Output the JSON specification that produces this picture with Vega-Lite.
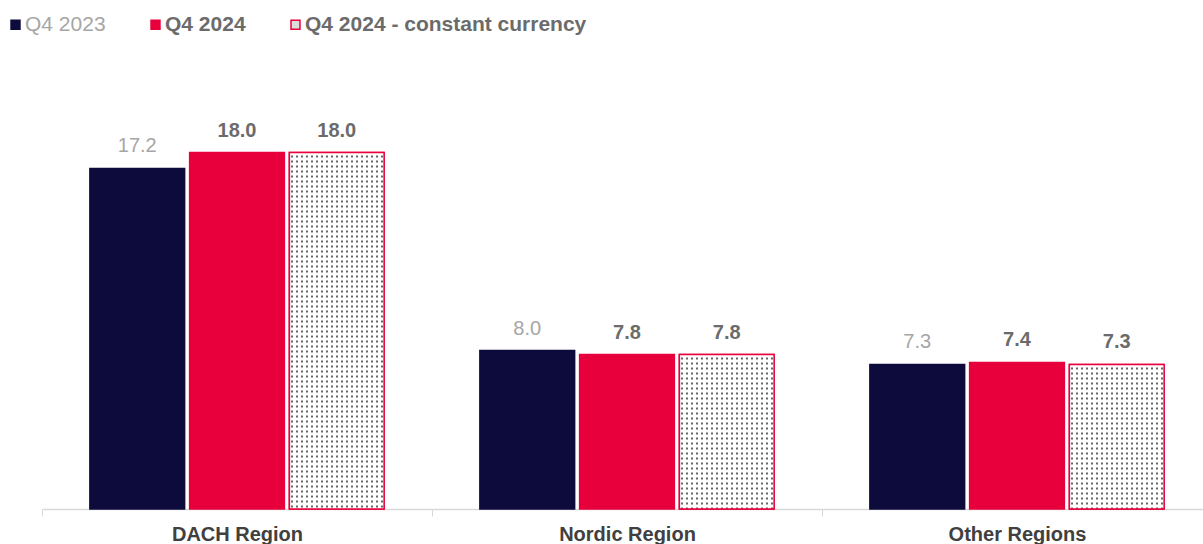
{
  "$schema": "https://vega.github.io/schema/vega-lite/v6.json",
  "autosize": {"type": "none"},
  "width": 1161,
  "height": 396,
  "padding": {"left": 42, "top": 113, "right": 0, "bottom": 35},
  "background": "white",
  "config": {
    "font": "Liberation Sans",
    "view": {"stroke": null}
  },
  "data": {
    "values": [
      {"region": "DACH Region", "series": "Q4 2023", "value": 17.2},
      {"region": "DACH Region", "series": "Q4 2024", "value": 18.0},
      {"region": "DACH Region", "series": "Q4 2024 - constant currency", "value": 18.0},
      {"region": "Nordic Region", "series": "Q4 2023", "value": 8.0},
      {"region": "Nordic Region", "series": "Q4 2024", "value": 7.8},
      {"region": "Nordic Region", "series": "Q4 2024 - constant currency", "value": 7.8},
      {"region": "Other Regions", "series": "Q4 2023", "value": 7.3},
      {"region": "Other Regions", "series": "Q4 2024", "value": 7.4},
      {"region": "Other Regions", "series": "Q4 2024 - constant currency", "value": 7.3}
    ]
  },
  "encoding": {
    "x": {
      "field": "region",
      "type": "nominal",
      "sort": null,
      "scale": {"range": [0, 1170], "paddingInner": 0, "paddingOuter": 0},
      "axis": {
        "title": null,
        "labelAngle": 0,
        "labelFontSize": 20,
        "labelFontWeight": "bold",
        "labelColor": "#404040",
        "labelPadding": 8,
        "tickBand": "extent",
        "tickSize": 7,
        "tickColor": "#d9d9d9",
        "domainColor": "#d9d9d9",
        "domainWidth": 1.5
      }
    },
    "xOffset": {
      "field": "series",
      "type": "nominal",
      "sort": null,
      "scale": {"paddingInner": 0.05, "paddingOuter": 0.48}
    },
    "y": {
      "field": "value",
      "type": "quantitative",
      "scale": {"domain": [0, 20], "nice": false, "zero": true},
      "axis": null
    }
  },
  "layer": [
    {
      "mark": {"type": "bar", "strokeWidth": 1.5},
      "encoding": {
        "fill": {
          "field": "series",
          "type": "nominal",
          "sort": null,
          "scale": {
            "domain": ["Q4 2023", "Q4 2024", "Q4 2024 - constant currency"],
            "range": ["#0d0b3b", "#e8003c", "#dcdcdc"]
          },
          "legend": {
            "title": null,
            "orient": "none",
            "direction": "horizontal",
            "legendX": -37,
            "legendY": -99,
            "padding": 0,
            "symbolType": "square",
            "symbolSize": 80,
            "symbolStrokeWidth": 1.5,
            "labelFontSize": 21,
            "labelOffset": -1,
            "columnPadding": 39,
            "labelLimit": 400,
            "encode": {
              "labels": {
                "update": {
                  "fontWeight": {"signal": "datum.label === 'Q4 2023' ? 'normal' : 'bold'"},
                  "fill": {"signal": "datum.label === 'Q4 2023' ? '#a6a6a6' : '#6b6b6b'"}
                }
              }
            }
          }
        },
        "stroke": {
          "field": "series",
          "type": "nominal",
          "sort": null,
          "scale": {
            "domain": ["Q4 2023", "Q4 2024", "Q4 2024 - constant currency"],
            "range": ["#0d0b3b", "#e8003c", "#e8003c"]
          },
          "legend": null
        }
      }
    },
    {
      "transform": [{"filter": "datum.series === 'Q4 2024 - constant currency'"}],
      "mark": {
        "type": "bar",
        "strokeWidth": 0,
        "fill": {
          "gradient": "linear",
          "x1": 0, "x2": 1, "y1": 0, "y2": 0,
          "stops": [
            {"offset": 0, "color": "#ffffff"},
            {"offset": 0.01579, "color": "#ffffff"}, {"offset": 0.01579, "color": "#666666"}, {"offset": 0.03684, "color": "#666666"}, {"offset": 0.03684, "color": "#ffffff"},
            {"offset": 0.06842, "color": "#ffffff"}, {"offset": 0.06842, "color": "#666666"}, {"offset": 0.08947, "color": "#666666"}, {"offset": 0.08947, "color": "#ffffff"},
            {"offset": 0.12105, "color": "#ffffff"}, {"offset": 0.12105, "color": "#666666"}, {"offset": 0.14211, "color": "#666666"}, {"offset": 0.14211, "color": "#ffffff"},
            {"offset": 0.17368, "color": "#ffffff"}, {"offset": 0.17368, "color": "#666666"}, {"offset": 0.19474, "color": "#666666"}, {"offset": 0.19474, "color": "#ffffff"},
            {"offset": 0.22632, "color": "#ffffff"}, {"offset": 0.22632, "color": "#666666"}, {"offset": 0.24737, "color": "#666666"}, {"offset": 0.24737, "color": "#ffffff"},
            {"offset": 0.27895, "color": "#ffffff"}, {"offset": 0.27895, "color": "#666666"}, {"offset": 0.30000, "color": "#666666"}, {"offset": 0.30000, "color": "#ffffff"},
            {"offset": 0.33158, "color": "#ffffff"}, {"offset": 0.33158, "color": "#666666"}, {"offset": 0.35263, "color": "#666666"}, {"offset": 0.35263, "color": "#ffffff"},
            {"offset": 0.38421, "color": "#ffffff"}, {"offset": 0.38421, "color": "#666666"}, {"offset": 0.40526, "color": "#666666"}, {"offset": 0.40526, "color": "#ffffff"},
            {"offset": 0.43684, "color": "#ffffff"}, {"offset": 0.43684, "color": "#666666"}, {"offset": 0.45789, "color": "#666666"}, {"offset": 0.45789, "color": "#ffffff"},
            {"offset": 0.48947, "color": "#ffffff"}, {"offset": 0.48947, "color": "#666666"}, {"offset": 0.51053, "color": "#666666"}, {"offset": 0.51053, "color": "#ffffff"},
            {"offset": 0.54211, "color": "#ffffff"}, {"offset": 0.54211, "color": "#666666"}, {"offset": 0.56316, "color": "#666666"}, {"offset": 0.56316, "color": "#ffffff"},
            {"offset": 0.59474, "color": "#ffffff"}, {"offset": 0.59474, "color": "#666666"}, {"offset": 0.61579, "color": "#666666"}, {"offset": 0.61579, "color": "#ffffff"},
            {"offset": 0.64737, "color": "#ffffff"}, {"offset": 0.64737, "color": "#666666"}, {"offset": 0.66842, "color": "#666666"}, {"offset": 0.66842, "color": "#ffffff"},
            {"offset": 0.70000, "color": "#ffffff"}, {"offset": 0.70000, "color": "#666666"}, {"offset": 0.72105, "color": "#666666"}, {"offset": 0.72105, "color": "#ffffff"},
            {"offset": 0.75263, "color": "#ffffff"}, {"offset": 0.75263, "color": "#666666"}, {"offset": 0.77368, "color": "#666666"}, {"offset": 0.77368, "color": "#ffffff"},
            {"offset": 0.80526, "color": "#ffffff"}, {"offset": 0.80526, "color": "#666666"}, {"offset": 0.82632, "color": "#666666"}, {"offset": 0.82632, "color": "#ffffff"},
            {"offset": 0.85789, "color": "#ffffff"}, {"offset": 0.85789, "color": "#666666"}, {"offset": 0.87895, "color": "#666666"}, {"offset": 0.87895, "color": "#ffffff"},
            {"offset": 0.91053, "color": "#ffffff"}, {"offset": 0.91053, "color": "#666666"}, {"offset": 0.93158, "color": "#666666"}, {"offset": 0.93158, "color": "#ffffff"},
            {"offset": 0.96316, "color": "#ffffff"}, {"offset": 0.96316, "color": "#666666"}, {"offset": 0.98421, "color": "#666666"}, {"offset": 0.98421, "color": "#ffffff"},
            {"offset": 1, "color": "#ffffff"}
          ]
        }
      },
      "encoding": {}
    },
    {
      "transform": [{"filter": "datum.series === 'Q4 2024 - constant currency'"}],
      "mark": {"type": "rule", "color": "#ffffff", "strokeWidth": 95, "strokeDash": [3, 2], "strokeCap": "butt"},
      "encoding": {
        "y2": {"datum": 0}
      }
    },
    {
      "transform": [{"filter": "datum.series === 'Q4 2024 - constant currency'"}],
      "mark": {"type": "bar", "fill": "transparent", "stroke": "#e8003c", "strokeWidth": 1.5},
      "encoding": {}
    },
    {
      "transform": [{"filter": "datum.series === 'Q4 2023'"}],
      "mark": {"type": "text", "baseline": "alphabetic", "dy": -16, "fontSize": 20, "fontWeight": "normal", "color": "#a6a6a6"},
      "encoding": {
        "text": {"field": "value", "type": "quantitative", "format": ".1f"}
      }
    },
    {
      "transform": [{"filter": "datum.series !== 'Q4 2023'"}],
      "mark": {"type": "text", "baseline": "alphabetic", "dy": -16, "fontSize": 20, "fontWeight": "bold", "color": "#6b6b6b"},
      "encoding": {
        "text": {"field": "value", "type": "quantitative", "format": ".1f"}
      }
    }
  ]
}
